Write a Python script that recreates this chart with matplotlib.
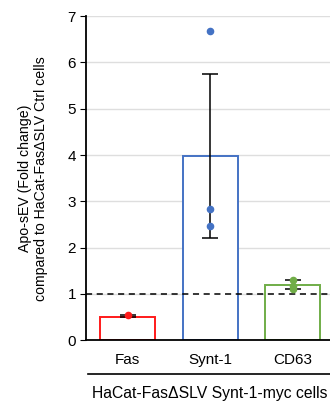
import matplotlib.pyplot as plt
from matplotlib.lines import Line2D

plt.rcParams['font.family'] = ['Liberation Sans', 'DejaVu Sans']

# values
groups = ['Fas', 'Synt-1', 'CD63']
means = [0.50, 3.97, 1.20]
err_lo = [0.50, 2.20, 1.10]
err_hi = [0.55, 5.75, 1.30]
points = [[0.54], [6.67, 2.83, 2.47], [1.30, 1.10, 1.18]]
colors = ['#ff1a1a', '#4472c4', '#70ad47']

fig = plt.figure(figsize=(3.3, 4.05), dpi=100)
ax = fig.add_axes([0.262, 0.16, 0.75, 0.80])

x = list(range(len(groups)))
ax.set_axisbelow(True)
ax.yaxis.grid(True, color='#dedede', lw=1)
ax.bar(x, means, width=0.67, facecolor='white', edgecolor=colors, lw=1.4, zorder=2)

for i in x:
    lo = means[i] - err_lo[i]
    hi = err_hi[i] - means[i]
    ax.errorbar(i, means[i], yerr=[[lo], [hi]], fmt='none', ecolor='black',
                elinewidth=1.1, capsize=6, capthick=1.1, zorder=3)
    ax.scatter([i] * len(points[i]), points[i], s=20, color=colors[i], zorder=4)

ax.axhline(1, color='black', ls='--', lw=1.1, dashes=(4, 3), zorder=3)

ax.set_xlim(-0.5, 2.5)
ax.set_ylim(0, 7)
ax.set_yticks(range(8))
ax.set_xticks(x)
ax.set_xticklabels(groups, fontsize=11)
ax.tick_params(axis='y', labelsize=11, length=4)
ax.tick_params(axis='x', length=0, pad=9)
for s in ['top', 'right']:
    ax.spines[s].set_visible(False)
ax.spines['left'].set_linewidth(1.3)
ax.spines['bottom'].set_linewidth(1.3)

ax.set_ylabel('Apo-sEV (Fold change)\ncompared to HaCat-FasΔSLV Ctrl cells', fontsize=10.2, labelpad=14)

# group line + label under the x axis
fig.add_artist(Line2D([0.267, 1.0], [0.077, 0.077], color='black', lw=1.2))
fig.text(0.635, 0.018, 'HaCat-FasΔSLV Synt-1-myc cells', ha='center', fontsize=11.3)

fig.savefig('out.png', dpi=100)
